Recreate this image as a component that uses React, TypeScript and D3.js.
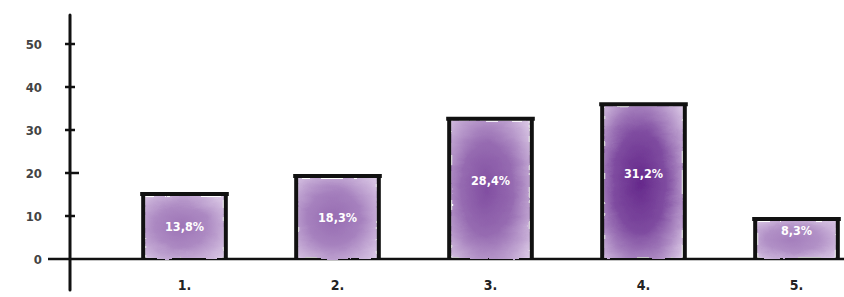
import React from "react";
import * as d3 from "d3";

const categories = ["1.", "2.", "3.", "4.", "5."];
const barHeights = [15.1, 19.3, 32.6, 36.0, 9.3];
const barLabels = ["13,8%", "18,3%", "28,4%", "31,2%", "8,3%"];
const intensity = [0.55, 0.6, 0.75, 0.95, 0.5];
const yTicks = [0, 10, 20, 30, 40, 50];

const W = 844;
const H = 297;

export default function App() {
  const y = d3.scaleLinear().domain([0, 50]).range([259, 44]);
  const x = d3
    .scaleBand<string>()
    .domain(categories)
    .range([108, 873])
    .paddingInner(0.46)
    .paddingOuter(0.23);
  const axisX = 70;
  const base = y(0);
  const font = "'DejaVu Sans Condensed', 'DejaVu Sans', sans-serif";
  const mix = d3.interpolateRgb("#e9dcf1", "#5e1f86");

  return (
    <svg
      width={W}
      height={H}
      style={{ position: "absolute", left: 0, top: 0, background: "#fff" }}
    >
      <defs>
        {categories.map((c, i) => (
          <radialGradient key={c} id={`g${i}`} cx="0.45" cy="0.5" r="0.75">
            <stop offset="0%" stopColor={mix(intensity[i])} />
            <stop offset="45%" stopColor={mix(intensity[i] * 0.8)} />
            <stop offset="100%" stopColor={mix(0.08)} />
          </radialGradient>
        ))}
        <filter id="wc" x="-10%" y="-10%" width="120%" height="120%">
          <feTurbulence type="fractalNoise" baseFrequency="0.04 0.09" numOctaves="3" seed="4" result="n" />
          <feDisplacementMap in="SourceGraphic" in2="n" scale="6" xChannelSelector="R" yChannelSelector="G" />
        </filter>
      </defs>

      {/* y axis */}
      <line x1={axisX} x2={axisX} y1={15} y2={290} stroke="#111" strokeWidth={3} strokeLinecap="round" />
      {yTicks.map((t) => (
        <g key={t}>
          {t > 0 && (
            <line
              x1={axisX - 5}
              x2={axisX + (t === 20 ? 9 : 5)}
              y1={y(t)}
              y2={y(t)}
              stroke="#111"
              strokeWidth={2.5}
            />
          )}
          <text
            x={42}
            y={y(t)}
            dy="0.35em"
            textAnchor="end"
            fontFamily={font}
            fontWeight="bold"
            fontSize={13}
            fill="#444"
          >
            {t}
          </text>
        </g>
      ))}
      {/* zero baseline */}
      <line x1={48} x2={W} y1={base} y2={base} stroke="#111" strokeWidth={2.5} />

      {categories.map((c, i) => {
        const x0 = x(c)!;
        const bw = x.bandwidth();
        const top = y(barHeights[i]);
        const cx = x0 + bw / 2;
        return (
          <g key={c}>
            <rect
              x={x0 + 2}
              y={top + 2}
              width={bw - 4}
              height={base - top - 3}
              fill={`url(#g${i})`}
              filter="url(#wc)"
            />
            <path
              d={`M${x0},${base} L${x0},${top} M${x0 - 3},${top} L${x0 + bw + 3},${top} M${x0 + bw},${top} L${x0 + bw},${base}`}
              stroke="#111"
              strokeWidth={4}
              fill="none"
            />
            <text
              x={cx}
              y={(top + base) / 2 - (i >= 2 ? 8 : 0)}
              dy="0.35em"
              textAnchor="middle"
              fontFamily={font}
              fontWeight="bold"
              fontSize={12.5}
              fill="#fff"
            >
              {barLabels[i]}
            </text>
            <text
              x={cx}
              y={285}
              dy="0.35em"
              textAnchor="middle"
              fontFamily={font}
              fontWeight="bold"
              fontSize={14}
              fill="#222"
            >
              {c}
            </text>
          </g>
        );
      })}
    </svg>
  );
}
